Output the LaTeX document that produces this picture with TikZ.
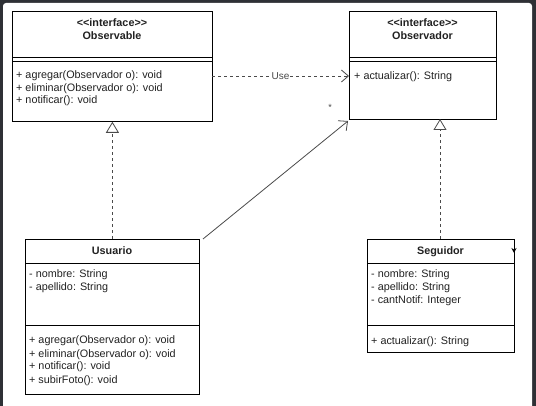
\documentclass[tikz,border=0pt]{standalone}
\usepackage{fontspec}
\setmainfont{Liberation Sans}
\usetikzlibrary{arrows.meta}
\definecolor{frame}{HTML}{2E3035}
\definecolor{txt}{HTML}{222222}
\definecolor{conn}{HTML}{4A4A4A}
\begin{document}
\begin{tikzpicture}[x=1pt,y=-1pt,
  classbox/.style={draw=black, line width=0.8pt, fill=white, anchor=north west, inner sep=0pt},
  mem/.style={anchor=west, inner sep=0pt, text=txt, font=\fontsize{10.8}{12}\selectfont, text height=8pt, text depth=2pt},
  ttl/.style={anchor=center, inner sep=0pt, text=txt, font=\fontsize{10.8}{12}\selectfont\bfseries, text height=8pt, text depth=2pt},
  divider/.style={draw=black, line width=0.8pt},
  dashline/.style={dash pattern=on 3pt off 3pt},
  connline/.style={draw=conn, line width=0.8pt}
]
\useasboundingbox (0,0) rectangle (536,406);
\fill[frame] (0,0) rectangle (536,406);
\fill[white, rounded corners=3pt] (3,3) rectangle (532,412);

% Observable
\node[classbox, minimum width=200pt, minimum height=110pt] (obs) at (12,11) {};
\draw[divider] (12,57) -- (212,57);
\draw[divider] (12,61) -- (212,61);
\node[ttl] (obsS) at (112,24) {{<}{<}interface{>}{>}};
\node[ttl] (obsN) at (112,37) {Observable};
\node[mem] (obsM1) at (16,76) {+ agregar(Observador o): void};
\node[mem] (obsM2) at (16,89) {+ eliminar(Observador o): void};
\node[mem] (obsM3) at (16,101) {+ notificar(): void};

% Observador
\node[classbox, minimum width=147pt, minimum height=108pt] (obr) at (349,11) {};
\draw[divider] (349,57) -- (496,57);
\draw[divider] (349,61) -- (496,61);
\node[ttl] (obrS) at (422.5,24) {{<}{<}interface{>}{>}};
\node[ttl] (obrN) at (422.5,37) {Observador};
\node[mem] (obrM1) at (354,77) {+ actualizar(): String};

% Usuario
\node[classbox, minimum width=174pt, minimum height=155pt] (usu) at (25,239) {};
\draw[divider] (25,263) -- (199,263);
\draw[divider] (25,325) -- (199,325);
\node[ttl] (usuN) at (112,251.5) {Usuario};
\node[mem] (usuA1) at (29,274.5) {- nombre: String};
\node[mem] (usuA2) at (29,288) {- apellido: String};
\node[mem] (usuM1) at (29,341) {+ agregar(Observador o): void};
\node[mem] (usuM2) at (29,354) {+ eliminar(Observador o): void};
\node[mem] (usuM3) at (29,367) {+ notificar(): void};
\node[mem] (usuM4) at (29,380.5) {+ subirFoto(): void};

% Seguidor
\node[classbox, minimum width=147pt, minimum height=113pt] (seg) at (367,239) {};
\draw[divider] (367,263) -- (514,263);
\draw[divider] (367,325) -- (514,325);
\node[ttl] (segN) at (440.5,251.5) {Seguidor};
\node[mem] (segA1) at (371,274.5) {- nombre: String};
\node[mem] (segA2) at (371,288) {- apellido: String};
\node[mem] (segA3) at (371,301) {- cantNotif: Integer};
\node[mem] (segM1) at (371,341.5) {+ actualizar(): String};

% Use dependency
\coordinate (useA) at (212,76);
\coordinate (useB) at (349,76);
\draw[connline, dashline, -{Straight Barb[length=7pt,width=12pt]}] (useA) -- node[fill=white, inner sep=0.5pt, text=conn, font=\fontsize{10}{11}\selectfont] (useL) {Use} (useB);

% association
\coordinate (asA) at (203,239);
\coordinate (asB) at (348,121);
\draw[connline, -{Straight Barb[length=7pt,width=13pt]}] (asA) -- (asB);
\node[text=conn, inner sep=0pt, font=\fontsize{9}{10}\selectfont] (star) at (330,107) {*};

% realizations
\draw[connline, dashline, -{Triangle[open, length=11pt, width=13pt]}] (usu.north) -- (obs.south);
\coordinate (segTop) at (440,239);
\coordinate (obrBot) at (440,119);
\draw[connline, dashline, -{Triangle[open, length=11pt, width=13pt]}] (segTop) -- (obrBot);

% stray small arrow
\coordinate (sa) at (514,240);
\coordinate (sb) at (514,253);
\draw[black, line width=0.9pt, -{Stealth[length=5pt,width=5pt]}] (sa) -- (sb);
\end{tikzpicture}
\end{document}
